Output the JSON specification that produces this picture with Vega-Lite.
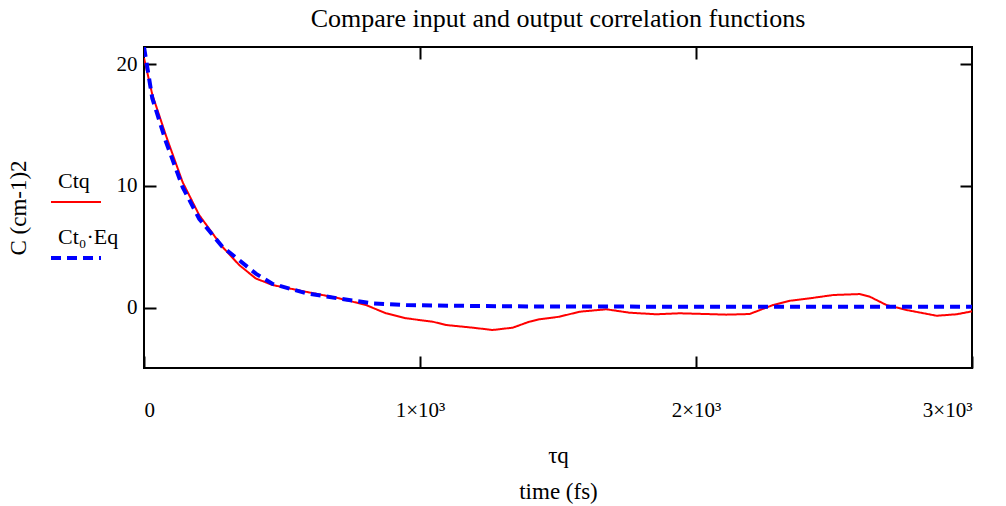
{
  "$schema": "https://vega.github.io/schema/vega-lite/v6.json",
  "width": 828,
  "height": 321,
  "autosize": "none",
  "padding": {"left": 144, "top": 47, "right": 34, "bottom": 138},
  "background": "white",
  "config": {
    "font": "Liberation Serif",
    "view": {"stroke": "black", "strokeWidth": 2},
    "axis": {"labelFont": "Liberation Serif", "titleFont": "Liberation Serif", "labelColor": "black", "titleColor": "black", "tickColor": "black", "tickWidth": 2, "domain": false, "grid": false, "titleFontWeight": "normal"},
    "legend": {"orient": "none", "legendX": -95, "legendY": 129, "title": null, "symbolType": "M-1,0H1", "symbolSize": 2500, "labelFont": "Liberation Serif", "labelFontSize": 22, "labelColor": "black", "labelBaseline": "bottom", "labelOffset": -45, "rowPadding": 20, "padding": 0, "labelLimit": 200}
  },
  "title": {"text": "Compare input and output correlation functions", "font": "Liberation Serif", "fontSize": 26, "fontWeight": "normal", "color": "black", "offset": 14},
  "data": {"values": [
    {"t": 0, "v": 20.5, "s": "Ctq"},
    {"t": 30, "v": 17.5, "s": "Ctq"},
    {"t": 80, "v": 14.1, "s": "Ctq"},
    {"t": 140, "v": 10.3, "s": "Ctq"},
    {"t": 200, "v": 7.6, "s": "Ctq"},
    {"t": 284, "v": 5.0, "s": "Ctq"},
    {"t": 345, "v": 3.5, "s": "Ctq"},
    {"t": 405, "v": 2.4, "s": "Ctq"},
    {"t": 466, "v": 1.86, "s": "Ctq"},
    {"t": 586, "v": 1.31, "s": "Ctq"},
    {"t": 707, "v": 0.77, "s": "Ctq"},
    {"t": 804, "v": 0.22, "s": "Ctq"},
    {"t": 877, "v": -0.46, "s": "Ctq"},
    {"t": 950, "v": -0.87, "s": "Ctq"},
    {"t": 1046, "v": -1.15, "s": "Ctq"},
    {"t": 1094, "v": -1.42, "s": "Ctq"},
    {"t": 1191, "v": -1.64, "s": "Ctq"},
    {"t": 1263, "v": -1.83, "s": "Ctq"},
    {"t": 1336, "v": -1.64, "s": "Ctq"},
    {"t": 1396, "v": -1.15, "s": "Ctq"},
    {"t": 1433, "v": -0.95, "s": "Ctq"},
    {"t": 1505, "v": -0.74, "s": "Ctq"},
    {"t": 1578, "v": -0.33, "s": "Ctq"},
    {"t": 1675, "v": -0.13, "s": "Ctq"},
    {"t": 1759, "v": -0.41, "s": "Ctq"},
    {"t": 1856, "v": -0.54, "s": "Ctq"},
    {"t": 1940, "v": -0.46, "s": "Ctq"},
    {"t": 2037, "v": -0.52, "s": "Ctq"},
    {"t": 2110, "v": -0.57, "s": "Ctq"},
    {"t": 2194, "v": -0.52, "s": "Ctq"},
    {"t": 2279, "v": 0.22, "s": "Ctq"},
    {"t": 2340, "v": 0.57, "s": "Ctq"},
    {"t": 2412, "v": 0.77, "s": "Ctq"},
    {"t": 2497, "v": 1.04, "s": "Ctq"},
    {"t": 2593, "v": 1.12, "s": "Ctq"},
    {"t": 2630, "v": 0.9, "s": "Ctq"},
    {"t": 2690, "v": 0.22, "s": "Ctq"},
    {"t": 2763, "v": -0.19, "s": "Ctq"},
    {"t": 2872, "v": -0.66, "s": "Ctq"},
    {"t": 2944, "v": -0.54, "s": "Ctq"},
    {"t": 3000, "v": -0.3, "s": "Ctq"},
    {"t": 0, "v": 21.4, "s": "Ct₀·Eq"},
    {"t": 30, "v": 17.2, "s": "Ct₀·Eq"},
    {"t": 80, "v": 13.6, "s": "Ct₀·Eq"},
    {"t": 140, "v": 9.9, "s": "Ct₀·Eq"},
    {"t": 200, "v": 7.3, "s": "Ct₀·Eq"},
    {"t": 284, "v": 5.0, "s": "Ct₀·Eq"},
    {"t": 345, "v": 3.9, "s": "Ct₀·Eq"},
    {"t": 405, "v": 2.8, "s": "Ct₀·Eq"},
    {"t": 466, "v": 1.95, "s": "Ct₀·Eq"},
    {"t": 586, "v": 1.2, "s": "Ct₀·Eq"},
    {"t": 707, "v": 0.75, "s": "Ct₀·Eq"},
    {"t": 827, "v": 0.36, "s": "Ct₀·Eq"},
    {"t": 950, "v": 0.22, "s": "Ct₀·Eq"},
    {"t": 1191, "v": 0.14, "s": "Ct₀·Eq"},
    {"t": 1433, "v": 0.1, "s": "Ct₀·Eq"},
    {"t": 2000, "v": 0.08, "s": "Ct₀·Eq"},
    {"t": 3000, "v": 0.08, "s": "Ct₀·Eq"}
  ]},
  "layer": [
    {
      "mark": {"type": "line", "clip": true},
      "encoding": {
        "x": {"field": "t", "type": "quantitative", "scale": {"domain": [0, 3000], "nice": false},
          "axis": {"orient": "bottom", "values": [0, 1000, 2000, 3000], "tickSize": -12, "labelPadding": 60, "labelFontSize": 21, "labelBaseline": "alphabetic",
            "labelExpr": "datum.value == 0 ? '0' : (datum.value / 1000) + '×10³'",
            "title": ["τq", "time (fs)"], "titleFontSize": 23, "titleLineHeight": 36, "titleBaseline": "alphabetic", "titleY": 94}},
        "y": {"field": "v", "type": "quantitative", "scale": {"domain": [-4.95, 21.4], "nice": false, "zero": false},
          "axis": {"orient": "left", "values": [0, 10, 20], "tickSize": -12, "labelPadding": 19, "labelFontSize": 21,
            "title": "C (cm-1)2", "titleFontSize": 23, "titleX": -114}},
        "color": {"field": "s", "type": "nominal", "sort": ["Ctq", "Ct₀·Eq"], "scale": {"domain": ["Ctq", "Ct₀·Eq"], "range": ["#ff0000", "#0000ff"]}, "legend": {"title": null, "encode": {"labels": {"update": {"dy": {"value": -9}}}}}},
        "strokeDash": {"field": "s", "type": "nominal", "sort": ["Ctq", "Ct₀·Eq"], "scale": {"domain": ["Ctq", "Ct₀·Eq"], "range": [[1, 0], [10, 6]]}, "legend": {"title": null}},
        "strokeWidth": {"field": "s", "type": "ordinal", "sort": ["Ctq", "Ct₀·Eq"], "scale": {"domain": ["Ctq", "Ct₀·Eq"], "range": [2, 4]}, "legend": {"title": null}}
      }
    },
    {
      "mark": {"type": "line", "opacity": 0},
      "encoding": {
        "x": {"field": "t", "type": "quantitative", "axis": {"orient": "top", "values": [1000, 2000], "tickSize": -12, "labels": false, "title": null}},
        "y": {"field": "v", "type": "quantitative", "axis": {"orient": "right", "values": [10, 20], "tickSize": -12, "labels": false, "title": null}},
        "detail": {"field": "s"}
      }
    }
  ],
  "resolve": {"axis": {"x": "independent", "y": "independent"}}
}
